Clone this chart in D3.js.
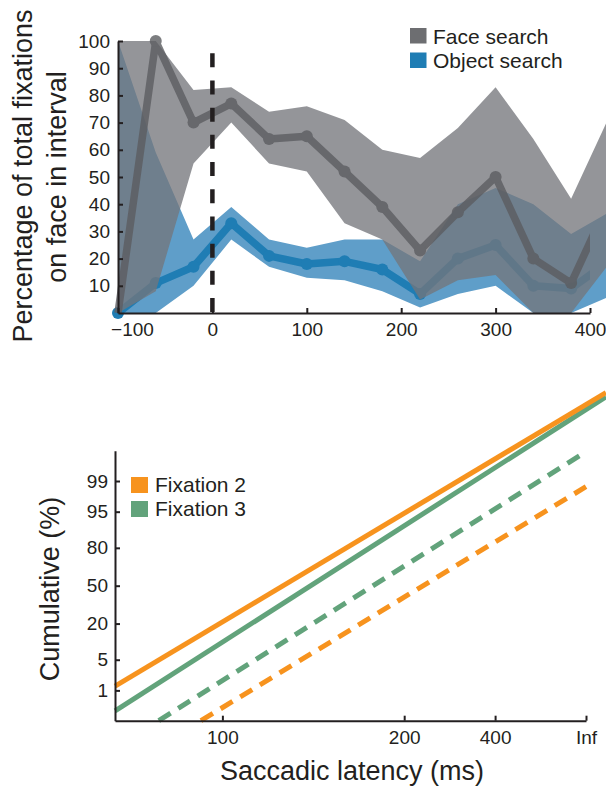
<!DOCTYPE html>
<html>
    <head>
        <meta charset="utf-8">
        <script src="https://d3js.org/d3.v7.min.js"></script>
        <title>fixations</title>
        <style>
            body { margin: 0; background: #fff; }
            svg text { font-family: "Liberation Sans", Arial, Helvetica, sans-serif; fill: #231f20; }
            .axis path, .axis line { stroke: #231f20; stroke-width: 2; }
        </style>
    </head>
    <body>
        <svg id="fig"></svg>
        <script>
            // ---- top panel: fixations on face over time ----
            const timeBins  = [-100, -60, -20, 20, 60, 100, 140, 180, 220, 260, 300, 340, 380, 420];
            const faceMean  = [0, 100, 70, 77, 64, 65, 52, 39, 23, 37, 50, 20, 11, 41];
            const faceUpper = [100, 100, 82, 83, 74, 76, 71, 60, 57, 68, 83, 64, 42, 72];
            const faceLower = [0, 8, 55, 70, 55, 52, 33, 27, 5, 12, 14, 0, 0, 18];
            const objMean   = [0, 11, 17, 33, 21, 18, 19, 16, 7, 20, 25, 10, 9, 19];
            const objUpper  = [100, 59, 27, 39, 27, 24, 27, 27, 19, 40, 46, 40, 29, 37];
            const objLower  = [0, 0, 10, 27, 17, 13, 12, 8, 2, 7, 10, 0, 0, 6];
            const timeTicks = [-100, 0, 100, 200, 300, 400];
            const pctTicks  = [10, 20, 30, 40, 50, 60, 70, 80, 90, 100];
            const topLegend = ["Face search", "Object search"];

            // ---- bottom panel: reciprobit plot ----
            // x is promptness (-1000 / latency, in 1/s), y is probit of the cumulative fraction
            const latencyTicks = [100, 200, 400, Infinity];
            const cumTicks     = [1, 5, 20, 50, 80, 95, 99];
            const fix2SolidRate = [-12.95, 0.55];
            const fix2SolidZ    = [-2.23, 4.29];
            const fix3SolidRate = [-12.95, 0.55];
            const fix3SolidZ    = [-2.78, 4.2];
            const fix2DashRate  = [-10.59, 0];
            const fix2DashZ     = [-3.0, 2.2];
            const fix3DashRate  = [-11.75, 0];
            const fix3DashZ     = [-3.0, 2.98];
            const bottomLegend = ["Fixation 2", "Fixation 3"];

            const width = 606, height = 787;
            const faceCol = '#6d6e71', objCol = '#1f7db4';
            const orange = '#f7931e', green = '#62a37b';

            let svg = d3.select('svg#fig')
                        .attr('width', width)
                        .attr('height', height);

            // inverse normal cdf (Acklam)
            function probit(p) {
                const a = [-3.969683028665376e+01, 2.209460984245205e+02, -2.759285104469687e+02, 1.383577518672690e+02, -3.066479806614716e+01, 2.506628277459239e+00];
                const b = [-5.447609879822406e+01, 1.615858368580409e+02, -1.556989798598866e+02, 6.680131188771972e+01, -1.328068155288572e+01];
                const c = [-7.784894002430293e-03, -3.223964580411365e-01, -2.400758277161838e+00, -2.549732539343734e+00, 4.374664141464968e+00, 2.938163982698783e+00];
                const d = [7.784695709041462e-03, 3.224671290700398e-01, 2.445134137142996e+00, 3.754408661907416e+00];
                const plow = 0.02425;
                let q, r;
                if (p < plow) {
                    q = Math.sqrt(-2 * Math.log(p));
                    return (((((c[0]*q+c[1])*q+c[2])*q+c[3])*q+c[4])*q+c[5]) / ((((d[0]*q+d[1])*q+d[2])*q+d[3])*q+1);
                }
                if (p > 1 - plow) {
                    q = Math.sqrt(-2 * Math.log(1 - p));
                    return -(((((c[0]*q+c[1])*q+c[2])*q+c[3])*q+c[4])*q+c[5]) / ((((d[0]*q+d[1])*q+d[2])*q+d[3])*q+1);
                }
                q = p - 0.5; r = q * q;
                return (((((a[0]*r+a[1])*r+a[2])*r+a[3])*r+a[4])*r+a[5])*q / (((((b[0]*r+b[1])*r+b[2])*r+b[3])*r+b[4])*r+1);
            }

            // =============== TOP PANEL ===============
            const xTop = d3.scaleLinear().domain([-100, 400]).range([118, 590]);
            const yTop = d3.scaleLinear().domain([0, 100]).range([313, 41]);

            const rows = timeBins.map((t, i) => ({
                t: t, fm: faceMean[i], fu: faceUpper[i], fl: faceLower[i],
                om: objMean[i], ou: objUpper[i], ol: objLower[i]
            }));

            svg.append('clipPath').attr('id', 'clipTop')
               .append('rect')
               .attr('x', 0).attr('y', 0)
               .attr('width', xTop(400)).attr('height', height);

            let topG = svg.append('g');

            // object search band + line (under the face band)
            topG.append('path')
               .datum(rows)
               .attr('d', d3.area().x(d => xTop(d.t)).y0(d => yTop(d.ol)).y1(d => yTop(d.ou)))
               .attr('fill', '#5f9ec9');

            let objG = topG.append('g').attr('clip-path', 'url(#clipTop)');
            objG.append('path')
                .datum(rows)
                .attr('d', d3.line().x(d => xTop(d.t)).y(d => yTop(d.om)))
                .attr('fill', 'none')
                .attr('stroke', objCol)
                .attr('stroke-width', 7.5)
                .attr('stroke-linejoin', 'round');
            objG.selectAll('circle')
                .data(rows)
                .join('circle')
                .attr('cx', d => xTop(d.t))
                .attr('cy', d => yTop(d.om))
                .attr('r', 6)
                .attr('fill', objCol);

            // face search band + line
            topG.append('path')
               .datum(rows)
               .attr('d', d3.area().x(d => xTop(d.t)).y0(d => yTop(d.fl)).y1(d => yTop(d.fu)))
               .attr('fill', 'rgb(116,117,122)')
               .attr('fill-opacity', 0.77);

            let faceG = topG.append('g').attr('clip-path', 'url(#clipTop)').attr('opacity', 0.8);
            faceG.append('path')
                 .datum(rows)
                 .attr('d', d3.line().x(d => xTop(d.t)).y(d => yTop(d.fm)))
                 .attr('fill', 'none')
                 .attr('stroke', 'rgb(92,93,97)')
                 .attr('stroke-width', 7.5)
                 .attr('stroke-linejoin', 'round');
            faceG.selectAll('circle')
                 .data(rows.slice(1))
                 .join('circle')
                 .attr('cx', d => xTop(d.t))
                 .attr('cy', d => yTop(d.fm))
                 .attr('r', 6)
                 .attr('fill', 'rgb(92,93,97)');

            // saccade onset marker
            topG.append('line')
               .attr('x1', xTop(0)).attr('x2', xTop(0))
               .attr('y1', yTop(95.5)).attr('y2', yTop(0))
               .attr('stroke', '#231f20')
               .attr('stroke-width', 4.5)
               .attr('stroke-dasharray', '14 13.2');

            // axes
            svg.append('g')
               .attr('class', 'axis')
               .attr('transform', `translate(${xTop(-100)}, 0)`)
               .call(d3.axisLeft(yTop).tickValues(pctTicks).tickSizeInner(-5).tickSizeOuter(0).tickPadding(8));
            let xAxTop = svg.append('g')
                .attr('class', 'axis')
                .attr('transform', `translate(0, ${yTop(0)})`)
                .call(d3.axisBottom(xTop).tickValues(timeTicks).tickSizeInner(-5).tickSizeOuter(0).tickPadding(10));
            xAxTop.selectAll('text').filter(d => d === -100).attr('dx', 14);

            // legend
            const topLegCols = [faceCol, objCol];
            topLegend.forEach((name, i) => {
                svg.append('rect')
                   .attr('x', 410).attr('y', 28 + i * 24.5)
                   .attr('width', 16.5).attr('height', 15.5)
                   .attr('fill', topLegCols[i]);
                svg.append('text')
                   .attr('x', 433).attr('y', 43.5 + i * 24.5)
                   .attr('font-size', 21)
                   .text(name);
            });

            // y title
            svg.append('text')
               .attr('transform', 'translate(32, 176) rotate(-90)')
               .attr('text-anchor', 'middle')
               .attr('font-size', 27)
               .text('Percentage of total fixations');
            svg.append('text')
               .attr('transform', 'translate(66, 177) rotate(-90)')
               .attr('text-anchor', 'middle')
               .attr('font-size', 27)
               .text('on face in interval');

            // =============== BOTTOM PANEL ===============
            const xBot = d3.scaleLinear().domain([-1000 / 77.2, 0]).range([115, 586]);
            const yBot = d3.scaleLinear().domain([-3, 3]).range([720.7, 450.7]);

            const fits = [
                { rate: fix3DashRate,  z: fix3DashZ,  col: green,  dash: '14 9' },
                { rate: fix2DashRate,  z: fix2DashZ,  col: orange, dash: '14 9' },
                { rate: fix3SolidRate, z: fix3SolidZ, col: green,  dash: null },
                { rate: fix2SolidRate, z: fix2SolidZ, col: orange, dash: null }
            ];
            const fitLine = d3.line().x(d => xBot(d[0])).y(d => yBot(d[1]));

            fits.forEach(f => {
                svg.append('path')
                   .datum(d3.zip(f.rate, f.z))
                   .attr('d', fitLine)
                   .attr('fill', 'none')
                   .attr('stroke', f.col)
                   .attr('stroke-width', 5)
                   .attr('stroke-dasharray', f.dash);
            });

            svg.append('g')
               .attr('class', 'axis')
               .attr('transform', `translate(${xBot.range()[0]}, 0)`)
               .call(d3.axisLeft(yBot)
                       .tickValues(cumTicks.map(p => probit(p / 100)))
                       .tickFormat((d, i) => cumTicks[i])
                       .tickSizeInner(-5).tickSizeOuter(0).tickPadding(7));

            svg.append('g')
               .attr('class', 'axis')
               .attr('transform', `translate(0, ${yBot(-3)})`)
               .call(d3.axisBottom(xBot)
                       .tickValues(latencyTicks.map(l => -1000 / l))
                       .tickFormat((d, i) => isFinite(latencyTicks[i]) ? latencyTicks[i] : 'Inf')
                       .tickSizeInner(-5).tickSizeOuter(0).tickPadding(10));

            // legend
            const botLegCols = [orange, green];
            bottomLegend.forEach((name, i) => {
                svg.append('rect')
                   .attr('x', 131).attr('y', 477 + i * 24)
                   .attr('width', 17).attr('height', 16)
                   .attr('fill', botLegCols[i]);
                svg.append('text')
                   .attr('x', 155).attr('y', 492 + i * 24)
                   .attr('font-size', 21)
                   .text(name);
            });

            svg.append('text')
               .attr('transform', 'translate(59, 589) rotate(-90)')
               .attr('text-anchor', 'middle')
               .attr('font-size', 27)
               .text('Cumulative (%)');
            svg.append('text')
               .attr('x', 352).attr('y', 780)
               .attr('text-anchor', 'middle')
               .attr('font-size', 27)
               .text('Saccadic latency (ms)');

            // tick label fonts
            svg.selectAll('.axis text')
               .attr('font-size', 19)
               .attr('font-family', null);
        </script>
    </body>
</html>
